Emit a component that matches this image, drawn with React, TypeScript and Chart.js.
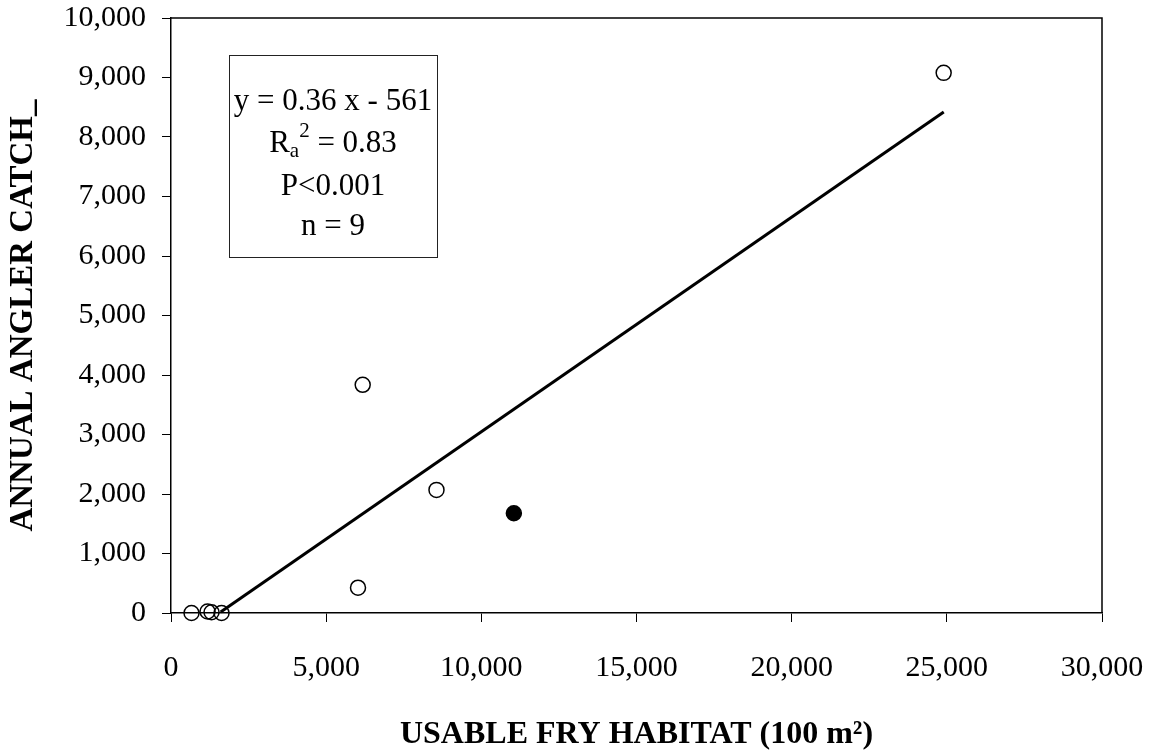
import React, { useEffect, useRef } from 'react';
import { Chart, registerables } from 'chart.js';

Chart.register(...registerables);

// ---- data ----
const openX = [661, 1177, 1306, 1629, 6026, 6177, 8555, 24898];
const openY = [0, 25, 12, 0, 426, 3835, 2069, 9078];
const filledX = [11048];
const filledY = [1677];
const fitX = [1600, 24900];
const fitY = [15, 8420];

const xTickValues = [0, 5000, 10000, 15000, 20000, 25000, 30000];
const yTickValues = [0, 1000, 2000, 3000, 4000, 5000, 6000, 7000, 8000, 9000, 10000];

const xTitle = 'USABLE FRY HABITAT (100 m²)';
const yTitle = 'ANNUAL ANGLER CATCH_';

const eqLine = 'y = 0.36 x - 561';
const rMain = 'R';
const rSub = 'a';
const rSup = '2';
const rRest = ' = 0.83';
const pLine = 'P<0.001';
const nLine = 'n = 9';

const FONT = "'Liberation Serif', 'Times New Roman', Times, serif";

const toPts = (xs: number[], ys: number[]) => xs.map((x, i) => ({ x, y: ys[i] }));

const statsPlugin = {
  id: 'statsBox',
  afterDraw(chart: any) {
    const { ctx, chartArea } = chart;
    ctx.save();
    // top and right frame
    ctx.strokeStyle = '#000';
    ctx.lineWidth = 1.5;
    ctx.beginPath();
    ctx.moveTo(chartArea.left, chartArea.top);
    ctx.lineTo(chartArea.right, chartArea.top);
    ctx.lineTo(chartArea.right, chartArea.bottom);
    ctx.stroke();

    // statistics box
    const bx = chartArea.left + 58;
    const by = chartArea.top + 37;
    const bw = 208;
    const bh = 202;
    ctx.lineWidth = 1;
    ctx.strokeStyle = '#222';
    ctx.strokeRect(bx + 0.5, by + 0.5, bw, bh);

    const cx = bx + bw / 2;
    ctx.fillStyle = '#000';
    ctx.textBaseline = 'alphabetic';
    ctx.textAlign = 'center';
    const mainFont = `31px ${FONT}`;
    const smallFont = `21px ${FONT}`;
    ctx.font = mainFont;
    ctx.fillText(eqLine, cx, by + 55);
    ctx.fillText(pLine, cx, by + 140);
    ctx.fillText(nLine, cx, by + 180);

    // R_a^2 = 0.83
    ctx.textAlign = 'left';
    ctx.font = mainFont;
    const wR = ctx.measureText(rMain).width;
    const wRest = ctx.measureText(rRest).width;
    ctx.font = smallFont;
    const wa = ctx.measureText(rSub).width;
    const w2 = ctx.measureText(rSup).width;
    const total = wR + wa + w2 + wRest;
    let x = cx - total / 2;
    const base = by + 97;
    ctx.font = mainFont;
    ctx.fillText(rMain, x, base);
    x += wR;
    ctx.font = smallFont;
    ctx.fillText(rSub, x, base + 5);
    x += wa;
    ctx.fillText(rSup, x, base - 15);
    x += w2;
    ctx.font = mainFont;
    ctx.fillText(rRest, x, base);
    ctx.restore();
  },
};

export default function App() {
  const ref = useRef<HTMLCanvasElement | null>(null);

  useEffect(() => {
    document.body.style.margin = '0';
    const canvas = ref.current;
    if (!canvas) return;
    const chart = new Chart(canvas, {
      type: 'scatter',
      data: {
        datasets: [
          {
            label: 'fit',
            type: 'line',
            data: toPts(fitX, fitY),
            borderColor: '#000',
            borderWidth: 3,
            pointRadius: 0,
            showLine: true,
            fill: false,
            tension: 0,
            clip: false as any,
          } as any,
          {
            label: 'open',
            data: toPts(openX, openY),
            pointStyle: 'circle',
            pointRadius: 7.5,
            pointBorderWidth: 1.5,
            borderColor: '#000',
            backgroundColor: 'rgba(0,0,0,0)',
            clip: false as any,
          } as any,
          {
            label: 'filled',
            data: toPts(filledX, filledY),
            pointStyle: 'circle',
            pointRadius: 7.5,
            pointBorderWidth: 1.5,
            borderColor: '#000',
            backgroundColor: '#000',
            clip: false as any,
          } as any,
        ],
      },
      options: {
        responsive: false,
        animation: false,
        events: [],
        layout: { padding: { top: 18, right: 51, left: 0, bottom: 0 } },
        plugins: {
          legend: { display: false },
          tooltip: { enabled: false },
        },
        scales: {
          x: {
            type: 'linear',
            min: 0,
            max: 30000,
            afterFit: (s: any) => {
              s.height = 138;
              s.paddingLeft = 0;
              s.paddingRight = 0;
            },
            afterBuildTicks: (s: any) => {
              s.ticks = xTickValues.map((v) => ({ value: v }));
            },
            ticks: {
              autoSkip: false,
              maxRotation: 0,
              padding: 28,
              color: '#000',
              font: { family: FONT, size: 30, lineHeight: 1.2 },
              callback: (v: any) => Number(v).toLocaleString('en-US'),
            },
            grid: {
              drawOnChartArea: false,
              drawTicks: true,
              tickLength: 9,
              color: '#000',
              lineWidth: 1,
            },
            border: { display: true, color: '#000', width: 1.5 },
            title: {
              display: true,
              text: xTitle,
              color: '#000',
              font: { family: FONT, size: 32, weight: 'bold', lineHeight: 1 },
              padding: { top: 0, bottom: 0 },
            },
          },
          y: {
            type: 'linear',
            min: 0,
            max: 10000,
            afterFit: (s: any) => {
              s.width = 171;
              s.paddingTop = 0;
              s.paddingBottom = 0;
            },
            afterBuildTicks: (s: any) => {
              s.ticks = yTickValues.map((v) => ({ value: v }));
            },
            ticks: {
              autoSkip: false,
              padding: 16,
              color: '#000',
              font: { family: FONT, size: 30, lineHeight: 1.2 },
              callback: (v: any) => Number(v).toLocaleString('en-US'),
            },
            grid: {
              drawOnChartArea: false,
              drawTicks: true,
              tickLength: 9,
              color: '#000',
              lineWidth: 1,
            },
            border: { display: true, color: '#000', width: 1.5 },
            title: {
              display: true,
              text: yTitle,
              color: '#000',
              font: { family: FONT, size: 33, weight: 'bold', lineHeight: 1 },
              padding: { top: 7, bottom: 0 },
            },
          },
        },
      },
      plugins: [statsPlugin],
    });
    return () => chart.destroy();
  }, []);

  return (
    <div style={{ width: 1153, height: 751, background: '#fff' }}>
      <canvas ref={ref} width={1153} height={751} style={{ display: 'block', width: 1153, height: 751 }} />
    </div>
  );
}
